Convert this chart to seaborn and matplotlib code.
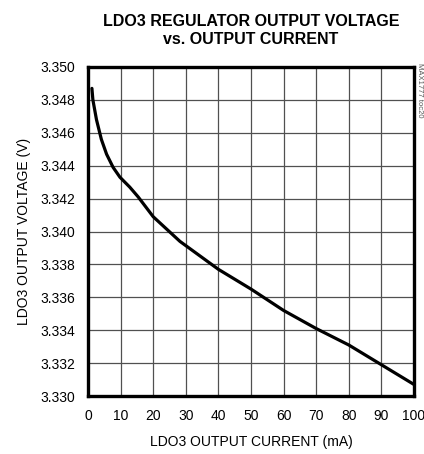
import matplotlib
matplotlib.use("Agg")
import matplotlib.pyplot as plt
import seaborn as sns
import pandas as pd

current_ma = [1.2, 1.5, 2.6, 4.1, 5.7, 7.7, 9.8, 12.8, 15.4, 20, 28.2, 40, 50, 60, 70, 80, 90, 100]
voltage_v = [3.3487, 3.3480, 3.3468, 3.3456, 3.3447, 3.3439, 3.3433, 3.3427, 3.3421, 3.3409,
             3.3394, 3.3377, 3.3365, 3.3352, 3.3341, 3.3331, 3.3319, 3.3307]
x_ticks = [0, 10, 20, 30, 40, 50, 60, 70, 80, 90, 100]
y_ticks = [3.330, 3.332, 3.334, 3.336, 3.338, 3.340, 3.342, 3.344, 3.346, 3.348, 3.350]

sns.set_style("white")
plt.rcParams['font.family'] = ['Liberation Sans', 'DejaVu Sans']
plt.rcParams['text.color'] = 'black'
plt.rcParams['axes.labelcolor'] = 'black'
plt.rcParams['xtick.color'] = 'black'
plt.rcParams['ytick.color'] = 'black'
plt.rcParams['axes.edgecolor'] = 'black'
plt.rcParams['axes.linewidth'] = 2.4

df = pd.DataFrame({"I": current_ma, "V": voltage_v})
fig = plt.figure(figsize=(4.24, 4.54), dpi=100)
ax = fig.add_axes([88/424, 1-396/454, (414-88)/424, (396-67)/454])
sns.lineplot(data=df, x="I", y="V", ax=ax, color="black", linewidth=2.3)
ax.set_xlim(0, 100)
ax.set_ylim(3.330, 3.350)
ax.set_xticks(x_ticks)
ax.set_yticks(y_ticks)
ax.set_xticklabels([str(t) for t in x_ticks], fontsize=10)
ax.set_yticklabels([f"{t:.3f}" for t in y_ticks], fontsize=10)
ax.tick_params(length=0, pad=9)
ax.grid(True, color="#505050", linewidth=0.9)
for s in ax.spines.values():
    s.set_visible(True)
    s.set_edgecolor("black")
    s.set_linewidth(2.4)
    s.set_zorder(5)
ax.set_xlabel("LDO3 OUTPUT CURRENT (mA)", fontsize=10, labelpad=9)
ax.set_ylabel("LDO3 OUTPUT VOLTAGE (V)", fontsize=10, labelpad=7)
fig.text(251/424, 1-30/454, "LDO3 REGULATOR OUTPUT VOLTAGE\nvs. OUTPUT CURRENT",
         ha="center", va="center", fontsize=11.5, fontweight="bold", linespacing=1.25)
fig.text(419/424, 1-90/454, "MAX1777 toc20", rotation=270, ha="center", va="center",
         fontsize=5.5, color="#555555")
fig.savefig("out.png", dpi=100)
